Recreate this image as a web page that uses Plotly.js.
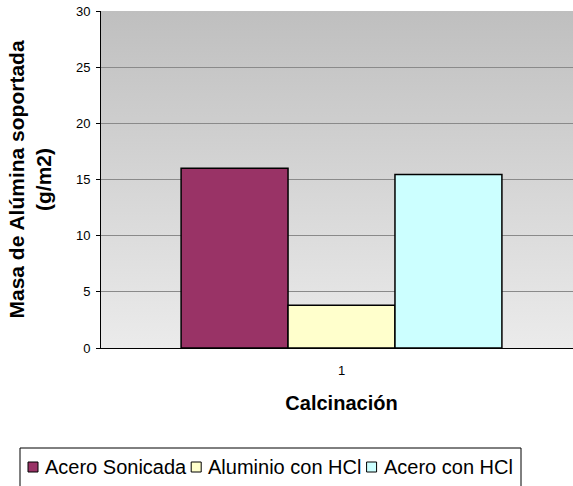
<!DOCTYPE html>
<html>
<head>
<meta charset="utf-8">
<script src="https://cdn.plot.ly/plotly-3.0.1.min.js"></script>
<style>
html,body{margin:0;padding:0;overflow:hidden;background:#fff;width:573px;height:486px;}
#chart{width:583px;height:486px;}
</style>
</head>
<body>
<div id="chart"></div>
<script>
const categories = ['1'];
const seriesNames = ['Acero Sonicada', 'Aluminio con HCl', 'Acero con HCl'];
const acerosonicada = [16];
const aluminioHCl = [3.8];
const aceroHCl = [15.45];
const seriesValues = [acerosonicada, aluminioHCl, aceroHCl];
const seriesColors = ['#993366', '#FFFFCC', '#CCFFFF'];
const yTicks = [0, 5, 10, 15, 20, 25, 30];

const traces = seriesNames.map((n, i) => ({
  type: 'bar',
  name: n,
  x: categories,
  y: seriesValues[i],
  marker: {color: seriesColors[i], line: {color: '#000000', width: 1.5}},
  hoverinfo: 'skip',
  showlegend: false
}));

const gradSvg = '<svg xmlns="http://www.w3.org/2000/svg" width="10" height="100" preserveAspectRatio="none">' +
  '<defs><linearGradient id="g" x1="0" y1="0" x2="0" y2="1">' +
  '<stop offset="0" stop-color="#bfbfbf"/><stop offset="1" stop-color="#ebebeb"/>' +
  '</linearGradient></defs><rect width="10" height="100" fill="url(#g)"/></svg>';
const gradUri = 'data:image/svg+xml;base64,' + btoa(gradSvg);

const font = 'Liberation Sans, Arial, sans-serif';
const W = 583, H = 486;
const M = {l: 101, r: 1, t: 11, b: 138};
const plotW = W - M.l - M.r, plotH = H - M.t - M.b;
const px = x => (x - M.l) / plotW;
const py = y => (H - M.b - y) / plotH;

// Legend drawn as paper-referenced box, keys and text
const legendFontSize = 20;
const ctx = document.createElement('canvas').getContext('2d');
ctx.font = legendFontSize + 'px "Liberation Sans", Arial, sans-serif';
const shapes = [];
const annotations = [];
const legTop = 448, legBottom = 492, legLeft = 20, legRight = 521, legMid = 467;
shapes.push({type: 'rect', xref: 'paper', yref: 'paper', x0: px(legLeft), x1: px(legRight),
  y0: py(legBottom), y1: py(legTop), line: {color: '#000', width: 1}, fillcolor: '#fff', layer: 'above'});
let cx = 28;
seriesNames.forEach((n, i) => {
  const key = 10;
  shapes.push({type: 'rect', xref: 'paper', yref: 'paper', x0: px(cx), x1: px(cx + key),
    y0: py(legMid + key / 2), y1: py(legMid - key / 2),
    fillcolor: seriesColors[i], line: {color: '#000', width: 1}, layer: 'above'});
  annotations.push({xref: 'paper', yref: 'paper', x: px(cx + 16), y: py(legMid), xanchor: 'left', yanchor: 'middle',
    text: n, showarrow: false, font: {family: font, size: legendFontSize, color: '#000'}, borderpad: 0});
  cx += 16 + ctx.measureText(n).width + 6;
});

const layout = {
  width: W, height: H,
  margin: M,
  paper_bgcolor: '#ffffff',
  plot_bgcolor: 'rgba(0,0,0,0)',
  barmode: 'group',
  bargap: 0.333,
  bargroupgap: 0,
  font: {family: font, color: '#000', size: 13},
  images: [{source: gradUri, xref: 'paper', yref: 'paper', x: 0, y: 1, sizex: 1, sizey: 1,
            sizing: 'stretch', layer: 'below', xanchor: 'left', yanchor: 'top'}],
  shapes: shapes,
  annotations: annotations,
  xaxis: {
    type: 'category',
    showgrid: false,
    showline: true, linecolor: '#000', linewidth: 1,
    ticks: '', ticklabelstandoff: 10,
    tickfont: {family: font, size: 13, color: '#000'},
    title: {text: '<b>Calcinación</b>', font: {family: font, size: 20, color: '#000'}, standoff: 19},
    fixedrange: true
  },
  yaxis: {
    range: [0, 30],
    tickvals: yTicks,
    ticktext: yTicks.map(String),
    showgrid: true, gridcolor: '#8a8a8a', gridwidth: 1,
    zeroline: false,
    showline: true, linecolor: '#000', linewidth: 1,
    ticks: 'outside', ticklen: 4, tickcolor: '#000',
    ticklabelstandoff: 3,
    tickfont: {family: font, size: 13, color: '#000'},
    title: {text: '<b>Masa de Alúmina soportada<br>(g/m2)</b>', font: {family: font, size: 21, color: '#000'}, standoff: 18},
    fixedrange: true
  },
  showlegend: false
};

Plotly.newPlot('chart', traces, layout, {displayModeBar: false, staticPlot: true});
</script>
</body>
</html>
